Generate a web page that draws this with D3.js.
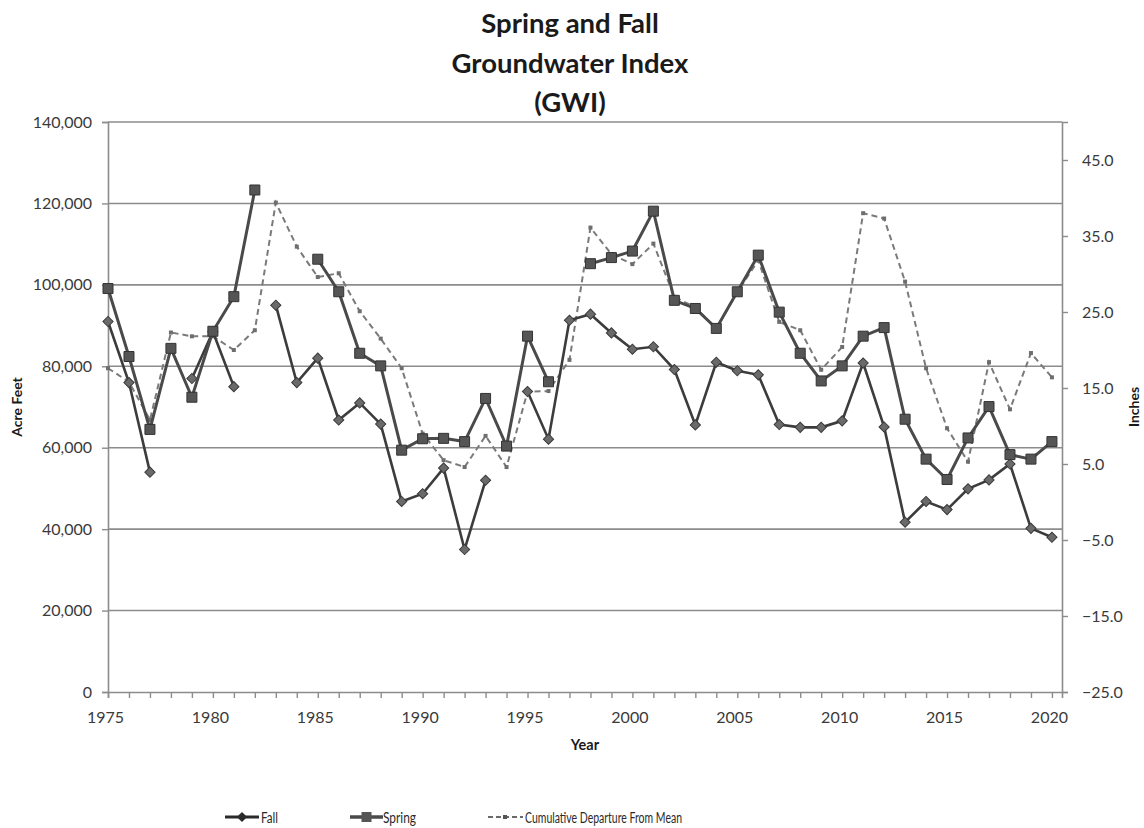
<!DOCTYPE html>
<html>
<head>
<meta charset="utf-8">
<script src="https://cdn.jsdelivr.net/npm/d3@7"></script>
<style>
  html, body { margin: 0; padding: 0; background: #fff; }
  svg { display: block; }
  text { font-family: Lato, "Open Sans", sans-serif; }
</style>
</head>
<body>
<svg id="chart" width="1144" height="828"></svg>
<script>
// ---- data ----
const years = d3.range(1975, 2021);
const fall = [91000, 76000, 54000, null, 77000, 88500, 75000, null, 95000, 76000,
  82000, 66800, 71000, 65800, 46800, 48700, 55000, 35000, 52000, null,
  73800, 62100, 91300, 92800, 88200, 84200, 84800, 79200, 65600, 81000,
  78900, 77900, 65700, 65000, 65000, 66600, 80800, 65100, 41700, 46800,
  44800, 49900, 52100, 56000, 40200, 38000];
const spring = [99100, 82400, 64500, 84400, 72400, 88600, 97100, 123300, null, null,
  106300, 98300, 83200, 80100, 59400, 62200, 62300, 61500, 72100, 60400,
  87400, 76200, null, 105200, 106700, 108300, 118100, 96200, 94200, 89300,
  98300, 107300, 93300, 83200, 76400, 80100, 87400, 89500, 67000, 57200,
  52200, 62400, 70100, 58300, 57200, 61500];
const cumDep = [17.6, 15.8, 10.8, 22.3, 21.8, 21.8, 20.0, 22.6, 39.4, 33.6,
  29.6, 30.1, 25.1, 21.5, 17.6, 9.0, 5.5, 4.6, 8.7, 4.6,
  14.5, 14.6, 18.7, 36.1, 32.6, 31.3, 34.0, 27.0, 25.6, 22.8,
  27.6, 31.8, 23.7, 22.6, 17.4, 20.4, 38.0, 37.3, 29.0, 17.6,
  9.7, 5.3, 18.4, 12.2, 19.6, 16.4];
const leftTicks = [0, 20000, 40000, 60000, 80000, 100000, 120000, 140000];
const rightTicks = [-25, -15, -5, 5, 15, 25, 35, 45];
const xLabelYears = [1975, 1980, 1985, 1990, 1995, 2000, 2005, 2010, 2015, 2020];
const titleLines = ["Spring and Fall", "Groundwater Index", "(GWI)"];
const legendItems = ["Fall", "Spring", "Cumulative Departure From Mean"];

// ---- layout ----
const svg = d3.select("#chart");
const L = 108, R = 1062, T = 122, B = 692;

const x = d3.scaleLinear().domain([1975, 2020.48]).range([L, R]);
const yL = d3.scaleLinear().domain([0, 140000]).range([B, T]);
const yR = d3.scaleLinear().domain([-25, 50]).range([B, T]);

// title
svg.append("g").selectAll("text").data(titleLines).join("text")
  .attr("x", 570).attr("y", (d, i) => 33 + i * 39.5)
  .attr("text-anchor", "middle")
  .attr("font-size", 27.5).attr("font-weight", 700).attr("fill", "#1a1a1a")
  .text(d => d);

// gridlines
svg.append("g").selectAll("line").data(leftTicks.filter(d => d > 0)).join("line")
  .attr("x1", L).attr("x2", R)
  .attr("y1", d => yL(d)).attr("y2", d => yL(d))
  .attr("stroke", "#8c8c8c").attr("stroke-width", 1.6);

// left axis
const axL = svg.append("g").attr("transform", `translate(${L},0)`)
  .call(d3.axisLeft(yL).tickValues(leftTicks).tickFormat(d3.format(",")).tickSize(6).tickPadding(10));
// right axis
const axR = svg.append("g").attr("transform", `translate(${R},0)`)
  .call(d3.axisRight(yR).tickValues(rightTicks).tickFormat(d3.format(".1f")).tickSize(6).tickPadding(14));
// bottom axis (minor year ticks)
const axB = svg.append("g").attr("transform", `translate(0,${B})`)
  .call(d3.axisBottom(x).tickValues(years).tickSize(6).tickFormat(d => xLabelYears.includes(d) ? d : ""));
axB.selectAll(".tick text").attr("dy", "1.4em").attr("dx", "-3");

[axL, axR, axB].forEach(a => {
  a.select(".domain").attr("stroke", "#8c8c8c").attr("stroke-width", 1.6);
  a.selectAll(".tick line").attr("stroke", "#8c8c8c").attr("stroke-width", 1.4);
  a.selectAll(".tick text").attr("font-size", 16).attr("fill", "#3a3a3a")
    .attr("font-family", "Lato, 'Open Sans', sans-serif");
});

// axis titles
svg.append("text").attr("transform", `translate(22,${(T + B) / 2}) rotate(-90)`)
  .attr("text-anchor", "middle").attr("font-size", 14).attr("font-weight", 700)
  .attr("fill", "#1a1a1a").text("Acre Feet");
svg.append("text").attr("transform", `translate(1139,${(T + B) / 2}) rotate(-90)`)
  .attr("text-anchor", "middle").attr("font-size", 14).attr("font-weight", 700)
  .attr("fill", "#1a1a1a").text("Inches");
svg.append("text").attr("x", (L + R) / 2).attr("y", 750)
  .attr("text-anchor", "middle").attr("font-size", 14.5).attr("font-weight", 700)
  .attr("fill", "#1a1a1a").text("Year");

// series
const fallData = years.map((yr, i) => ({ yr, v: fall[i] }));
const springData = years.map((yr, i) => ({ yr, v: spring[i] }));
const cumData = years.map((yr, i) => ({ yr, v: cumDep[i] }));

const lineL = d3.line().defined(d => d.v !== null).x(d => x(d.yr)).y(d => yL(d.v));
const lineR = d3.line().defined(d => d.v !== null).x(d => x(d.yr)).y(d => yR(d.v));

const diamond = d3.symbol().type(d3.symbolSquare).size(52);
const square = d3.symbol().type(d3.symbolSquare).size(100);
const smallSq = d3.symbol().type(d3.symbolSquare).size(16);

// cumulative dashed
svg.append("path").datum(cumData).attr("d", lineR)
  .attr("fill", "none").attr("stroke", "#7a7a7a").attr("stroke-width", 2)
  .attr("stroke-dasharray", "6,4");
svg.append("g").selectAll("path").data(cumData).join("path")
  .attr("transform", d => `translate(${x(d.yr)},${yR(d.v)})`)
  .attr("d", smallSq).attr("fill", "#6e6e6e");

// fall
svg.append("path").datum(fallData).attr("d", lineL)
  .attr("fill", "none").attr("stroke", "#3c3c3c").attr("stroke-width", 2.6);
svg.append("g").selectAll("path").data(fallData.filter(d => d.v !== null)).join("path")
  .attr("transform", d => `translate(${x(d.yr)},${yL(d.v)}) rotate(45)`)
  .attr("d", diamond)
  .attr("fill", "#6a6a6a").attr("stroke", "#3a3a3a").attr("stroke-width", 1);

// spring
svg.append("path").datum(springData).attr("d", lineL)
  .attr("fill", "none").attr("stroke", "#4a4a4a").attr("stroke-width", 3);
svg.append("g").selectAll("path").data(springData.filter(d => d.v !== null)).join("path")
  .attr("transform", d => `translate(${x(d.yr)},${yL(d.v)})`)
  .attr("d", square)
  .attr("fill", "#555555").attr("stroke", "#333333").attr("stroke-width", 1);

// legend
const lg = svg.append("g");
const legY = 817;
const legX = [225, 350, 488];
const legTextW = [17, 33, 157];
// Fall
lg.append("line").attr("x1", legX[0]).attr("x2", legX[0] + 34).attr("y1", legY).attr("y2", legY)
  .attr("stroke", "#2a2a2a").attr("stroke-width", 3);
lg.append("path").attr("transform", `translate(${legX[0] + 17},${legY}) rotate(45)`)
  .attr("d", diamond).attr("fill", "#2a2a2a");
// Spring
lg.append("line").attr("x1", legX[1]).attr("x2", legX[1] + 33).attr("y1", legY).attr("y2", legY)
  .attr("stroke", "#4a4a4a").attr("stroke-width", 3.5);
lg.append("path").attr("transform", `translate(${legX[1] + 16.5},${legY})`)
  .attr("d", square).attr("fill", "#555");
// Cumulative
lg.append("line").attr("x1", legX[2]).attr("x2", legX[2] + 35).attr("y1", legY).attr("y2", legY)
  .attr("stroke", "#6a6a6a").attr("stroke-width", 2).attr("stroke-dasharray", "5,3");
lg.append("path").attr("transform", `translate(${legX[2] + 17},${legY})`)
  .attr("d", smallSq).attr("fill", "#555");

lg.selectAll("text").data(legendItems).join("text")
  .attr("x", (d, i) => legX[i] + [36, 33, 37][i])
  .attr("y", legY + 5.5)
  .attr("font-size", 15.5).attr("fill", "#2a2a2a")
  .attr("textLength", (d, i) => legTextW[i]).attr("lengthAdjust", "spacingAndGlyphs")
  .text(d => d);
</script>
</body>
</html>
